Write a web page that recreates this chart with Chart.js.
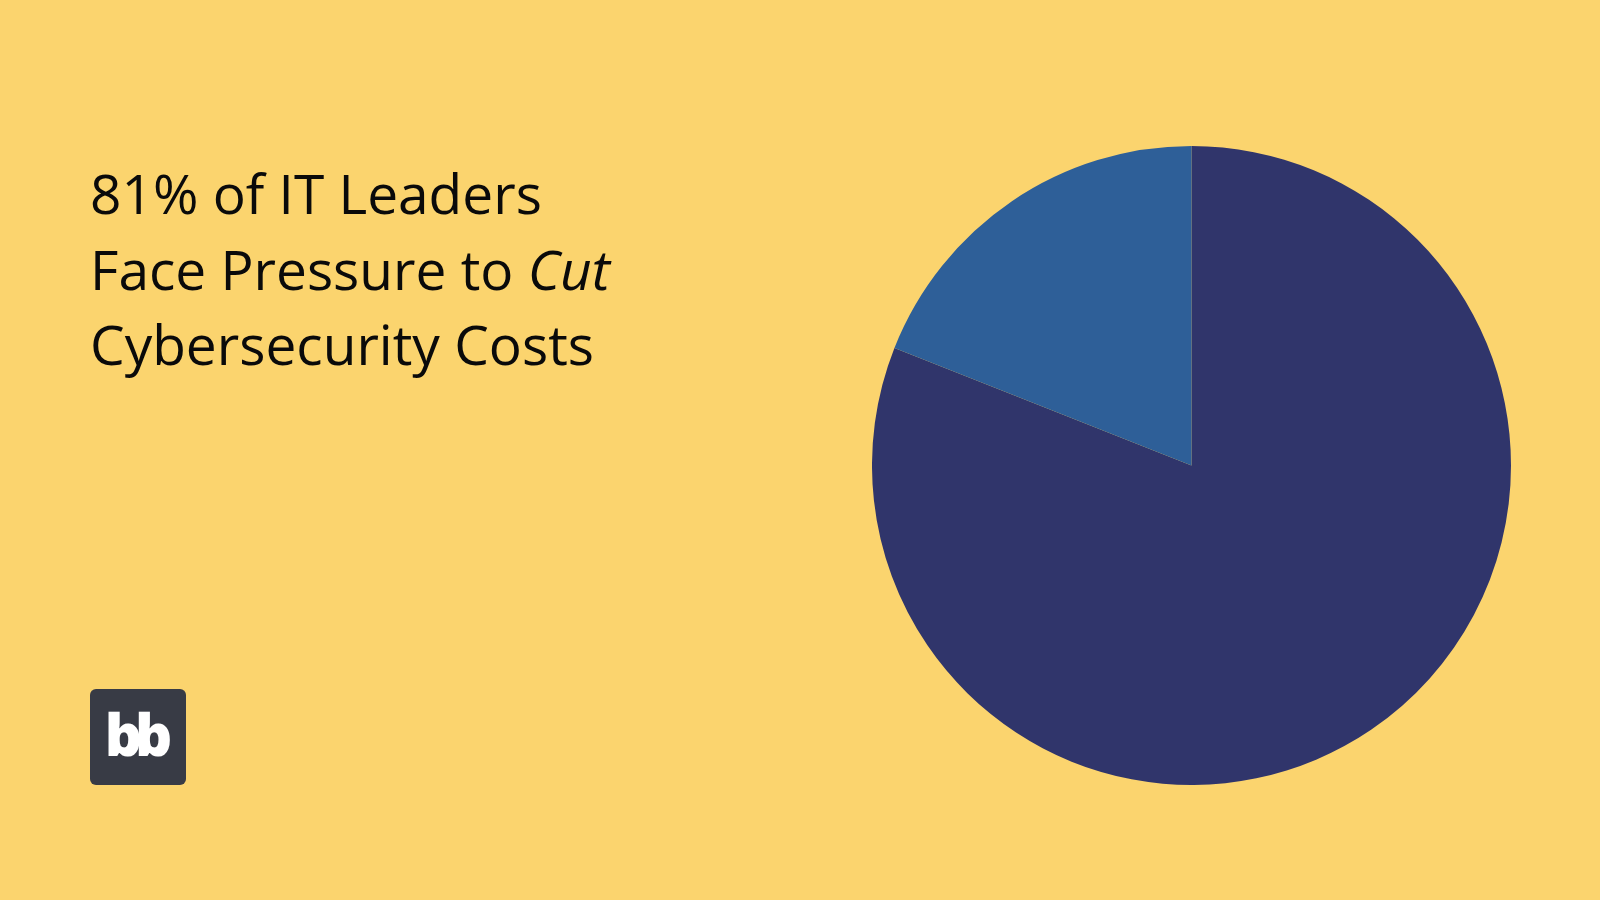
<!DOCTYPE html>
<html>
<head>
<meta charset="utf-8">
<script src="https://cdn.jsdelivr.net/npm/chart.js@4.4.1/dist/chart.umd.min.js"></script>
<style>
  html, body { margin: 0; padding: 0; width: 1600px; height: 900px; background: #FBD46E; overflow: hidden; }
  #title { position: absolute; left: 90px; top: 155px; font-family: "Open Sans", sans-serif; font-size: 55px; line-height: 75.5px; color: #0a0a0a; }
  #logo { position: absolute; left: 90px; top: 689px; width: 96px; height: 96px; border-radius: 6px; background: #383B45;
          color: #fff; font-family: "Open Sans", sans-serif; font-weight: 800; font-size: 58px; letter-spacing: -7px;
          display: flex; align-items: center; justify-content: center; line-height: 1; padding: 0 6px 6px 0; box-sizing: border-box; }
  #wrap { position: absolute; left: 872px; top: 146px; width: 639px; height: 639px; }
</style>
</head>
<body>
<div id="title">81% of IT Leaders<br>Face Pressure to <i>Cut</i><br>Cybersecurity Costs</div>
<div id="logo">bb</div>
<div id="wrap"><canvas id="c"></canvas></div>
<script>
const categories = ["Face pressure to cut costs", "Do not"];
const values = [81, 19];
const colors = ["#30356B", "#2E5F98"];

new Chart(document.getElementById("c"), {
  type: "pie",
  data: { labels: categories, datasets: [{ data: values, backgroundColor: colors, borderWidth: 0 }] },
  options: {
    responsive: true, maintainAspectRatio: false, animation: false,
    layout: { padding: 0 },
    plugins: { legend: { display: false }, tooltip: { enabled: false } }
  }
});
</script>
</body>
</html>
